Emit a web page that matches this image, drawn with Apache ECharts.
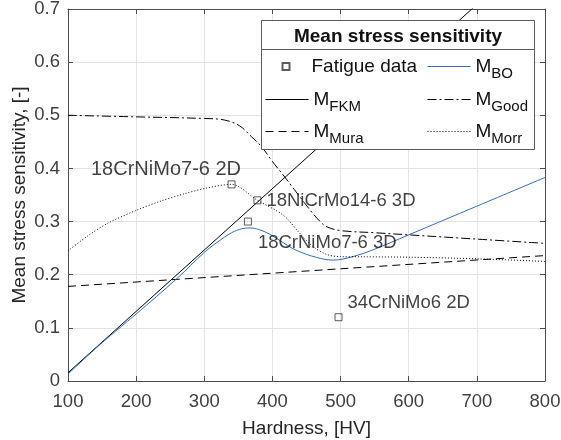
<!DOCTYPE html>
<html>
<head>
<meta charset="utf-8">
<script src="https://cdn.jsdelivr.net/npm/echarts@6/dist/echarts.min.js"></script>
<style>
  html, body { margin: 0; padding: 0; background: #fff; }
  #chart { width: 561px; height: 440px; }
</style>
</head>
<body>
<div id="chart"></div>
<script>
// Fatigue test results: hardness [HV] and measured mean stress sensitivity
const hvFatigue = [340, 364, 378, 497];
const mFatigue = [0.37, 0.30, 0.34, 0.12];
const specimenNames = ['18CrNiMo7-6 2D', '18CrNiMo7-6 3D', '18NiCrMo14-6 3D', '34CrNiMo6 2D'];

// Model curves: M as a function of hardness
const hvFKM = [100, 800];
const mFKM = [0.0155, 0.824];

const hvMura = [100, 800];
const mMura = [0.178, 0.236];

const hvBO = [100, 150, 200, 260, 300, 320, 340, 355, 367, 380, 395, 410, 435, 465, 489, 518, 548, 600, 700, 800];
const mBO = [0.013, 0.072, 0.126, 0.193, 0.242, 0.262, 0.279, 0.2865, 0.288, 0.285, 0.277, 0.265, 0.246, 0.2325, 0.2275, 0.234, 0.247, 0.275, 0.329, 0.383];

const hvGood = [100, 200, 300, 330, 352, 369, 384, 400, 418, 437, 455, 470, 480, 500, 550, 600, 700, 800];
const mGood = [0.5, 0.497, 0.494, 0.491, 0.48, 0.46, 0.441, 0.413, 0.384, 0.352, 0.322, 0.30, 0.29, 0.283, 0.279, 0.275, 0.267, 0.259];

const hvMorr = [100, 130, 160, 200, 235, 270, 303, 340, 378, 416, 440, 460, 480, 500, 533, 600, 700, 800];
const mMorr = [0.245, 0.274, 0.298, 0.321, 0.338, 0.352, 0.363, 0.37, 0.34, 0.312, 0.278, 0.2525, 0.238, 0.234, 0.2337, 0.233, 0.23, 0.225];

// Axis ticks
const xTicks = [100, 200, 300, 400, 500, 600, 700, 800];
const yTicks = [0, 0.1, 0.2, 0.3, 0.4, 0.5, 0.6, 0.7];
const yTickLabels = ['0', '0.1', '0.2', '0.3', '0.4', '0.5', '0.6', '0.7'];

const zip = (xs, ys) => xs.map((x, i) => [x, ys[i]]);

const FONT = '"Liberation Sans", Arial, Helvetica, sans-serif';
const TXT = '#262626';
const AXIS = '#4d4d4d';
const dashDot = [9, 3, 2, 3];
const dashed = [8, 5];
const dotted = [1, 2];

// Annotation placement around each specimen marker
const labelPlacement = [
  { align: 'right', offset: [9.5, -15], fontSize: 20 },
  { align: 'left', offset: [10, 21.5], fontSize: 18.5 },
  { align: 'left', offset: [9, 1], fontSize: 18.5 },
  { align: 'left', offset: [9, -14.5], fontSize: 18.5 }
];

const fatigueData = hvFatigue.map((hv, i) => ({
  name: specimenNames[i],
  value: [hv, mFatigue[i]],
  label: {
    show: true,
    position: 'inside',
    align: labelPlacement[i].align,
    verticalAlign: 'middle',
    offset: labelPlacement[i].offset,
    formatter: '{b}',
    fontFamily: FONT,
    fontSize: labelPlacement[i].fontSize,
    color: '#111111',
    textBorderWidth: 0,
    textBorderColor: 'transparent'
  }
}));

function legendLabel(name) {
  if (name.indexOf('M_') === 0) {
    return '{m|M}{s|' + name.slice(2) + '}';
  }
  return name;
}

const legendRich = {
  m: { fontFamily: FONT, fontSize: 19, color: '#111111', verticalAlign: 'middle' },
  s: { fontFamily: FONT, fontSize: 15, color: '#111111', verticalAlign: 'middle', padding: [14, 0, 0, 0] }
};

// One legend block per entry so the two columns line up like a table
function lineLegend(name, left, top) {
  return {
    data: [name],
    left: left,
    top: top,
    orient: 'vertical',
    padding: 0,
    itemWidth: 43,
    itemHeight: 7,
    itemGap: 0,
    selectedMode: false,
    z: 6,
    itemStyle: { color: 'rgba(0,0,0,0)', borderWidth: 0 },
    lineStyle: { width: 1 },
    formatter: legendLabel,
    textStyle: { fontFamily: FONT, fontSize: 19, color: '#111111', rich: legendRich }
  };
}

function markerLegend(name, left, top) {
  return {
    data: [name],
    left: left,
    top: top,
    orient: 'vertical',
    padding: 0,
    icon: 'rect',
    itemWidth: 7,
    itemHeight: 7,
    itemGap: 0,
    selectedMode: false,
    z: 6,
    textStyle: { fontFamily: FONT, fontSize: 19, color: '#111111', padding: [0, 0, 0, 17] }
  };
}

const axisCommon = {
  type: 'value',
  axisLine: { show: true, onZero: false, lineStyle: { color: AXIS, width: 1 } },
  axisTick: { show: true, inside: true, length: 5, lineStyle: { color: AXIS, width: 1 } },
  minorTick: { show: false }
};

const chart = echarts.init(document.getElementById('chart'), null, { renderer: 'canvas' });

chart.setOption({
  animation: false,
  backgroundColor: '#ffffff',
  grid: { left: 68, right: 16, top: 9, bottom: 59, containLabel: false, outerBoundsMode: 'none' },
  xAxis: [
    Object.assign({}, axisCommon, {
      position: 'bottom',
      min: xTicks[0],
      max: xTicks[xTicks.length - 1],
      interval: xTicks[1] - xTicks[0],
      name: 'Hardness, [HV]',
      nameLocation: 'middle',
      nameGap: 38,
      nameMoveOverlap: false,
      nameTextStyle: { fontFamily: FONT, fontSize: 19, color: TXT },
      axisLabel: { show: true, margin: 11, fontFamily: FONT, fontSize: 18.5, color: '#404040',
        formatter: v => String(v) },
      splitLine: { show: true, lineStyle: { color: '#e3e3e3', width: 1 } }
    }),
    Object.assign({}, axisCommon, {
      position: 'top',
      min: xTicks[0],
      max: xTicks[xTicks.length - 1],
      interval: xTicks[1] - xTicks[0],
      axisLabel: { show: false },
      splitLine: { show: false }
    })
  ],
  yAxis: [
    Object.assign({}, axisCommon, {
      position: 'left',
      min: yTicks[0],
      max: yTicks[yTicks.length - 1],
      interval: yTicks[1] - yTicks[0],
      name: 'Mean stress sensitivity, [-]',
      nameLocation: 'middle',
      nameGap: 39,
      nameMoveOverlap: false,
      nameTextStyle: { fontFamily: FONT, fontSize: 19, color: TXT },
      axisLabel: { show: true, margin: 8, fontFamily: FONT, fontSize: 18.5, color: '#404040',
        formatter: v => yTickLabels[Math.round(v / (yTicks[1] - yTicks[0]))] },
      splitLine: { show: true, lineStyle: { color: '#e3e3e3', width: 1 } }
    }),
    Object.assign({}, axisCommon, {
      position: 'right',
      min: yTicks[0],
      max: yTicks[yTicks.length - 1],
      interval: yTicks[1] - yTicks[0],
      axisLabel: { show: false },
      splitLine: { show: false }
    })
  ],
  legend: [
    markerLegend('Fatigue data', 281.5, 57),
    lineLegend('M_FKM', 265, 90),
    lineLegend('M_Mura', 265, 122),
    lineLegend('M_BO', 427, 57),
    lineLegend('M_Good', 427, 90),
    lineLegend('M_Morr', 427, 122)
  ],
  graphic: [
    {
      type: 'rect', z: 5,
      shape: { x: 261.5, y: 20.5, width: 273, height: 129 },
      style: { fill: '#ffffff', stroke: '#5a5a5a', lineWidth: 1 }
    },
    {
      type: 'line', z: 5,
      shape: { x1: 261.5, y1: 49.5, x2: 534.5, y2: 49.5 },
      style: { stroke: '#5a5a5a', lineWidth: 1 }
    },
    {
      type: 'text', z: 6,
      x: 398, y: 37,
      style: {
        text: 'Mean stress sensitivity',
        fontFamily: FONT, fontSize: 19, fontWeight: 'bold', fill: '#111111',
        align: 'center', verticalAlign: 'middle'
      }
    }
  ],
  series: [
    {
      name: 'Fatigue data',
      type: 'scatter',
      symbol: 'rect',
      symbolSize: 7,
      itemStyle: { color: 'rgba(255,255,255,0)', borderColor: '#333333', borderWidth: 1 },
      emphasis: { disabled: true },
      data: fatigueData,
      z: 3
    },
    {
      name: 'M_FKM',
      type: 'line',
      symbol: 'none',
      clip: true,
      lineStyle: { color: '#000000', width: 1, type: 'solid' },
      emphasis: { disabled: true },
      data: zip(hvFKM, mFKM),
      z: 2
    },
    {
      name: 'M_Mura',
      type: 'line',
      symbol: 'none',
      lineStyle: { color: '#000000', width: 1, type: dashed },
      emphasis: { disabled: true },
      data: zip(hvMura, mMura),
      z: 2
    },
    {
      name: 'M_BO',
      type: 'line',
      symbol: 'none',
      smooth: 0.35,
      lineStyle: { color: '#2f6fc0', width: 1, type: 'solid' },
      emphasis: { disabled: true },
      data: zip(hvBO, mBO),
      z: 2
    },
    {
      name: 'M_Good',
      type: 'line',
      symbol: 'none',
      smooth: 0.35,
      lineStyle: { color: '#000000', width: 1, type: dashDot },
      emphasis: { disabled: true },
      data: zip(hvGood, mGood),
      z: 2
    },
    {
      name: 'M_Morr',
      type: 'line',
      symbol: 'none',
      smooth: 0.3,
      lineStyle: { color: '#000000', width: 1, type: dotted },
      emphasis: { disabled: true },
      data: zip(hvMorr, mMorr),
      z: 2
    }
  ]
});
</script>
</body>
</html>
